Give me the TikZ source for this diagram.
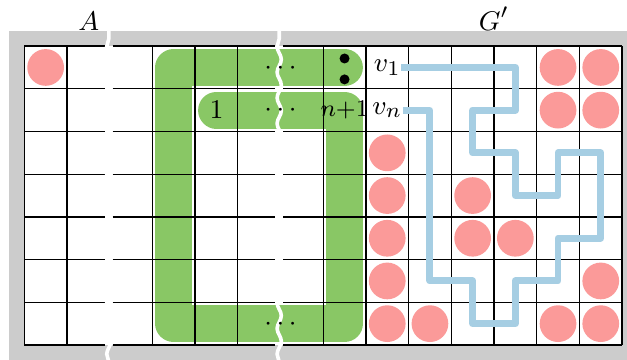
\documentclass[tikz,border=0pt]{standalone}
\usetikzlibrary{decorations.pathmorphing}
\definecolor{framegray}{RGB}{204,204,204}
\definecolor{bandgreen}{RGB}{137,199,101}
\definecolor{dotpink}{RGB}{251,154,153}
\definecolor{pathblue}{RGB}{166,206,227}
\begin{document}
\begin{tikzpicture}[
  x=0.5cm, y=0.5cm,
  font=\fontsize{9.3}{11}\selectfont,
  gridline/.style={line width=0.45pt},
  greenband/.style={bandgreen, line width=0.43cm, line cap=round, line join=round},
  bluepath/.style={pathblue, line width=2.3pt, line join=round},
  pinkdot/.style={fill=dotpink},
  breakline/.style={white, line width=1.2pt, decorate,
    decoration={snake, segment length=3mm, amplitude=0.7pt}},
  lbl/.style={inner sep=0pt}]
    % size of the picture
    \useasboundingbox (-0.569,-0.351) rectangle (14.115,8.080);
    \clip (-0.569,-0.351) rectangle (14.115,8.080);
    % grey frame round the board
    \fill[framegray] (-0.36,-0.36) rectangle (14.36,7.36);
    \fill[white] (0,0) rectangle (14,7);
    % green spiral in A
    \draw[greenband] (4.5,5.5) -- (7.5,5.5) -- (7.5,0.5) -- (3.5,0.5)
      -- (3.5,6.5) -- (7.5,6.5);
    % grid, cut at the two breaks
    \foreach \y in {0,...,7}
      \draw[gridline] (0,\y) -- (1.89,\y) (2.07,\y) -- (5.87,\y) (6.06,\y) -- (14,\y);
    \foreach \x in {0,1,3,4,5,7,8,...,14}
      \draw[gridline] (\x,0) -- (\x,7);
    % blocked cells
    \foreach \c/\r in {0/6,12/6,13/6,12/5,13/5,8/4,8/3,10/3,8/2,10/2,11/2,
                       8/1,13/1,8/0,9/0,12/0,13/0}
      \fill[pinkdot] (\c+0.5,\r+0.5) circle (0.43);
    % breaks
    \draw[breakline] (1.98,-0.4) -- (1.98,7.4);
    \draw[breakline] (5.97,-0.4) -- (5.97,7.4);
    % labels
    \node[lbl, anchor=base] (lblA) at (1.51,7.37) {$A$};
    \node[lbl, anchor=base] (lblG) at (11,7.37) {$G'$};
    \node[lbl] (one) at (4.5,5.5) {$1$};
    \node[lbl, font=\fontsize{7.9}{9}\selectfont] (last) at (7.5,5.5) {$n{+}1$};
    \node[lbl, anchor=base] (dotsTop) at (6,6.34) {$\cdots$};
    \node[lbl, anchor=base] (dotsMid) at (6,5.34) {$\cdots$};
    \node[lbl, anchor=base] (dotsBot) at (6,0.34) {$\cdots$};
    \fill (7.5,6.71) circle (0.117);
    \fill (7.5,6.22) circle (0.117);
    \node[lbl] (v1) at (8.5,6.5) {$v_1$};
    \node[lbl] (vn) at (8.5,5.5) {$v_n$};
    % path in G' from v_n to v_1
    \draw[bluepath] (vn.east) -- (9.5,5.5) -- (9.5,1.5) -- (10.5,1.5) -- (10.5,0.5)
      -- (11.5,0.5) -- (11.5,1.5) -- (12.5,1.5) -- (12.5,2.5) -- (13.5,2.5)
      -- (13.5,4.5) -- (12.5,4.5) -- (12.5,3.5) -- (11.5,3.5) -- (11.5,4.5)
      -- (10.5,4.5) -- (10.5,5.5) -- (11.5,5.5) -- (11.5,6.5) -- (v1.east);
\end{tikzpicture}
\end{document}
